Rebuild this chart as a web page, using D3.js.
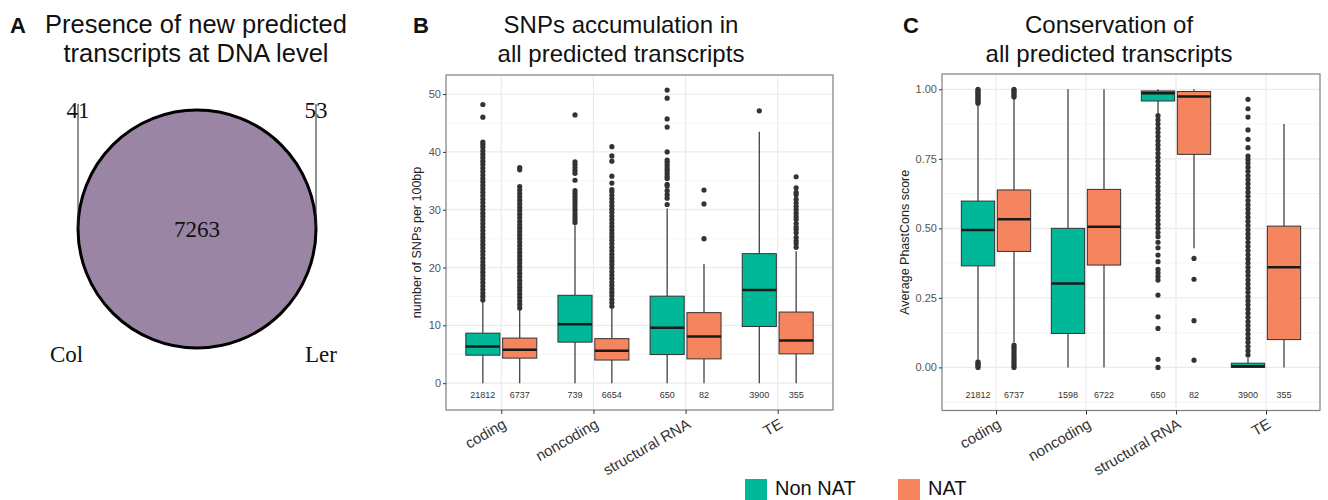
<!DOCTYPE html>
<html><head><meta charset="utf-8">
<script src="https://cdn.jsdelivr.net/npm/d3@7"></script>
<style>
html,body{margin:0;padding:0;background:#fff;}
svg{display:block;}
</style></head>
<body>
<svg id="chart" width="1328" height="500"></svg>
<script>
// ---------------- DATA ----------------
const categories = ["coding", "noncoding", "structural RNA", "TE"];
const groups = ["Non NAT", "NAT"];
const groupColors = ["#00b797", "#f5855f"];

// Panel A (Venn)
const vennSets = ["Col", "Ler"];
const vennOnlyCol = 41;
const vennShared = 7263;
const vennOnlyLer = 53;

// Panel B: SNPs per 100bp
const snpTicks = [0, 10, 20, 30, 40, 50];
const snpMinor = [5, 15, 25, 35, 45];
const snpNonLow  = [0, 0, 0, 0];
const snpNonQ1   = [4.84, 7.1, 4.95, 9.8];
const snpNonMed  = [6.33, 10.2, 9.57, 16.1];
const snpNonQ3   = [8.65, 15.2, 15.05, 22.4];
const snpNonHigh = [14.1, 27.3, 30.2, 43.5];
const snpNonOut = [
  [14.4,15.0,15.6,16.2,16.8,17.4,18.0,18.6,19.2,19.8,20.4,21.0,21.6,22.2,22.8,23.4,24.0,24.6,25.2,25.8,26.4,27.0,27.6,28.2,28.8,29.4,30.0,30.6,31.2,31.8,32.4,33.0,33.6,34.2,34.8,35.4,36.0,36.6,37.2,37.8,38.4,39.0,39.6,40.2,40.8,41.3,41.7,46.0,48.2],
  [27.8,28.3,28.8,29.3,29.8,30.3,30.8,31.3,31.8,32.3,32.8,33.3,35.1,36.3,36.8,37.3,37.8,38.3,46.4],
  [30.9,32.0,32.6,33.3,34.1,34.4,35.4,35.8,36.3,36.8,37.2,37.7,38.2,38.6,40.0,44.3,45.7,49.3,50.7],
  [47.1]
];
const snpNatLow  = [0, 0, 0, 0];
const snpNatQ1   = [4.33, 4.0, 4.2, 5.07];
const snpNatMed  = [5.76, 5.6, 8.07, 7.4];
const snpNatQ3   = [7.8, 7.7, 12.2, 12.3];
const snpNatHigh = [12.8, 13.0, 20.6, 22.8];
const snpNatOut = [
  [13.0,13.6,14.2,14.8,15.4,16.0,16.6,17.2,17.8,18.4,19.0,19.6,20.2,20.8,21.4,22.0,22.6,23.2,23.8,24.4,25.0,25.6,26.2,26.8,27.4,28.0,28.6,29.2,29.8,30.4,31.0,31.6,32.2,32.8,33.4,34.0,36.9,37.3],
  [13.3,13.9,14.5,15.1,15.7,16.3,16.9,17.5,18.1,18.7,19.3,19.9,20.5,21.1,21.7,22.3,22.9,23.5,24.1,24.7,25.3,25.9,26.5,27.1,27.7,28.3,28.9,29.5,30.1,30.7,31.3,31.9,32.5,33.1,33.5,34.6,35.8,38.4,39.3,40.9],
  [25.0, 31.0, 33.4],
  [23.5,24.1,24.6,25.2,26.0,26.6,27.0,27.6,28.3,28.8,29.4,30.0,30.6,31.2,31.8,32.6,33.0,33.8,35.7]
];
const snpNonCounts = [21812, 739, 650, 3900];
const snpNatCounts = [6737, 6654, 82, 355];

// Panel C: PhastCons
const consTicks = [0, 0.25, 0.5, 0.75, 1];
const consMinor = [-0.125, 0.125, 0.375, 0.625, 0.875];
const consNonLow  = [0.03, 0, 0.915, 0];
const consNonQ1   = [0.365, 0.122, 0.958, 0];
const consNonMed  = [0.494, 0.302, 0.986, 0.004];
const consNonQ3   = [0.598, 0.50, 0.994, 0.015];
const consNonHigh = [0.945, 1.0, 1.0, 0.035];
const consNonOut = [
  [0.95,0.955,0.96,0.965,0.97,0.975,0.98,0.985,0.99,0.995,1.0,0.0,0.005,0.01,0.015,0.02],
  [],
  [0.905,0.89,0.875,0.86,0.845,0.83,0.815,0.8,0.785,0.77,0.755,0.74,0.725,0.71,0.695,0.68,0.665,0.65,0.635,0.62,0.605,0.59,0.575,0.56,0.545,0.53,0.515,0.5,0.485,0.47,0.45,0.43,0.404,0.38,0.353,0.34,0.327,0.314,0.26,0.182,0.14,0.029,0.0],
  [0.045,0.06,0.075,0.09,0.105,0.12,0.135,0.15,0.165,0.18,0.195,0.21,0.225,0.24,0.255,0.27,0.285,0.3,0.315,0.33,0.345,0.36,0.375,0.39,0.405,0.42,0.435,0.45,0.465,0.48,0.495,0.51,0.525,0.54,0.555,0.57,0.585,0.6,0.615,0.63,0.645,0.66,0.675,0.69,0.705,0.72,0.735,0.748,0.76,0.79,0.82,0.854,0.9,0.93,0.964]
];
const consNatLow  = [0.09, 0, 0.428, 0];
const consNatQ1   = [0.417, 0.368, 0.766, 0.10];
const consNatMed  = [0.533, 0.506, 0.974, 0.36];
const consNatQ3   = [0.638, 0.64, 0.992, 0.508];
const consNatHigh = [0.968, 1.0, 1.0, 0.875];
const consNatOut = [
  [0.972,0.978,0.984,0.99,0.995,1.0,0.0,0.008,0.016,0.024,0.032,0.04,0.048,0.056,0.064,0.072,0.08],
  [],
  [0.392, 0.317, 0.168, 0.026],
  []
];
const consNonCounts = [21812, 1598, 650, 3900];
const consNatCounts = [6737, 6722, 82, 355];

// ---------------- DRAW ----------------
const svg = d3.select("#chart");
const SANS = "'Liberation Sans', Arial, Helvetica, sans-serif";
const SERIF = "'Liberation Serif', 'Times New Roman', serif";

// ---- Panel titles ----
function title(letter, lx, lines, cx, fs) {
  svg.append("text").attr("x", lx).attr("y", 33).attr("font-family", SANS)
    .attr("font-weight", "bold").attr("font-size", 22).attr("fill", "#111").text(letter);
  lines.forEach((t, i) => {
    svg.append("text").attr("x", cx).attr("y", 33 + i * 29).attr("text-anchor", "middle")
      .attr("font-family", SANS).attr("font-size", fs).attr("fill", "#111").text(t);
  });
}
title("A", 10, ["Presence of new predicted", "transcripts at DNA level"], 196, 25.5);
title("B", 413, ["SNPs accumulation in", "all predicted transcripts"], 621, 24);
title("C", 903, ["Conservation of", "all predicted transcripts"], 1109, 24);

// ---- Panel A: Venn ----
(function () {
  const cx = 197, cy = 229, r = 119;
  const g = svg.append("g");
  g.append("circle").attr("cx", cx).attr("cy", cy).attr("r", r)
    .attr("fill", "#9a85a5").attr("stroke", "#000").attr("stroke-width", 3);
  g.append("text").attr("x", cx).attr("y", cy + 8).attr("text-anchor", "middle")
    .attr("font-family", SERIF).attr("font-size", 23).attr("fill", "#111").text(vennShared);
  const lx = cx - r, rx = cx + r;
  g.append("line").attr("x1", lx).attr("x2", lx).attr("y1", 104).attr("y2", cy)
    .attr("stroke", "#222").attr("stroke-width", 1);
  g.append("line").attr("x1", rx).attr("x2", rx).attr("y1", 104).attr("y2", cy)
    .attr("stroke", "#222").attr("stroke-width", 1);
  g.append("text").attr("x", lx).attr("y", 118).attr("text-anchor", "middle")
    .attr("font-family", SERIF).attr("font-size", 23).attr("fill", "#111").text(vennOnlyCol);
  g.append("text").attr("x", rx).attr("y", 118).attr("text-anchor", "middle")
    .attr("font-family", SERIF).attr("font-size", 23).attr("fill", "#111").text(vennOnlyLer);
  g.append("text").attr("x", 50).attr("y", 362)
    .attr("font-family", SERIF).attr("font-size", 23).attr("fill", "#111").text(vennSets[0]);
  g.append("text").attr("x", 305).attr("y", 362)
    .attr("font-family", SERIF).attr("font-size", 23).attr("fill", "#111").text(vennSets[1]);
})();

// ---- Box panels ----
function boxPanel(o) {
  const g = svg.append("g");
  const x = d3.scalePoint().domain(categories).range([o.left, o.right]).padding(0.6);
  const step = x.step();
  const off = d3.scalePoint().domain(groups).range([-0.2 * step, 0.2 * step]);
  const bw = 0.37 * step;
  const y = d3.scaleLinear().domain(o.domain).range([o.bottom, o.top]);

  g.append("rect").attr("x", o.left).attr("y", o.top).attr("width", o.right - o.left)
    .attr("height", o.bottom - o.top).attr("fill", "#fff");
  g.selectAll(".minor").data(o.minor).join("line")
    .attr("x1", o.left).attr("x2", o.right).attr("y1", d => y(d)).attr("y2", d => y(d))
    .attr("stroke", "#f2f2f2").attr("stroke-width", 0.8);
  g.selectAll(".major").data(o.ticks).join("line")
    .attr("x1", o.left).attr("x2", o.right).attr("y1", d => y(d)).attr("y2", d => y(d))
    .attr("stroke", "#ebebeb").attr("stroke-width", 1.2);
  g.selectAll(".vmajor").data(categories).join("line")
    .attr("x1", d => x(d)).attr("x2", d => x(d)).attr("y1", o.top).attr("y2", o.bottom)
    .attr("stroke", "#ebebeb").attr("stroke-width", 1.2);

  const series = [o.non, o.nat];
  series.forEach((s, gi) => {
    const gx = c => x(c) + off(groups[gi]);
    categories.forEach((c, i) => {
      const cxp = gx(c);
      g.append("line").attr("x1", cxp).attr("x2", cxp).attr("y1", y(s.low[i])).attr("y2", y(s.q1[i]))
        .attr("stroke", "#333").attr("stroke-width", 1.2);
      g.append("line").attr("x1", cxp).attr("x2", cxp).attr("y1", y(s.q3[i])).attr("y2", y(s.high[i]))
        .attr("stroke", "#333").attr("stroke-width", 1.2);
      g.selectAll(null).data(s.out[i]).join("circle")
        .attr("cx", cxp).attr("cy", d => y(d)).attr("r", 2.6).attr("fill", "#333");
      g.append("rect").attr("x", cxp - bw / 2).attr("width", bw)
        .attr("y", y(s.q3[i])).attr("height", Math.max(1, y(s.q1[i]) - y(s.q3[i])))
        .attr("fill", groupColors[gi]).attr("stroke", "#333").attr("stroke-width", 1);
      g.append("line").attr("x1", cxp - bw / 2).attr("x2", cxp + bw / 2)
        .attr("y1", y(s.med[i])).attr("y2", y(s.med[i]))
        .attr("stroke", "#1a1a1a").attr("stroke-width", 2.5);
      g.append("text").attr("x", cxp).attr("y", y(o.countY)).attr("dy", "0.35em")
        .attr("text-anchor", "middle").attr("font-family", SANS).attr("font-size", 9)
        .attr("fill", "#333").text(s.counts[i]);
    });
  });

  g.append("rect").attr("x", o.left).attr("y", o.top).attr("width", o.right - o.left)
    .attr("height", o.bottom - o.top).attr("fill", "none").attr("stroke", "#7f7f7f").attr("stroke-width", 1.2);

  const ya = g.append("g").attr("transform", `translate(${o.left},0)`)
    .call(d3.axisLeft(y).tickValues(o.ticks).tickSize(3).tickPadding(2).tickFormat(o.fmt));
  ya.select(".domain").remove();
  ya.selectAll(".tick line").attr("stroke", "#333");
  ya.selectAll(".tick text").attr("font-family", SANS).attr("font-size", 11).attr("fill", "#555");

  const xa = g.append("g").attr("transform", `translate(0,${o.bottom})`)
    .call(d3.axisBottom(x).tickSize(4).tickFormat(""));
  xa.select(".domain").remove();
  xa.selectAll(".tick line").attr("stroke", "#333");
  categories.forEach(c => {
    const ax = x(c) + 6, ay = 427;
    g.append("text").attr("transform", `translate(${ax},${ay}) rotate(-30)`)
      .attr("text-anchor", "end").attr("font-family", SANS).attr("font-size", 15)
      .attr("fill", "#333").text(c);
  });

  g.append("text").attr("transform", `translate(${o.ytx},${(o.top + o.bottom) / 2}) rotate(-90)`)
    .attr("text-anchor", "middle").attr("dy", "0.35em").attr("font-family", SANS)
    .attr("font-size", 12.5).attr("fill", "#222").text(o.ytitle);
}

boxPanel({
  left: 446, right: 833, top: 75, bottom: 410,
  domain: [-4.64, 53.3], ticks: snpTicks, minor: snpMinor, fmt: d3.format("d"),
  countY: -2, ytx: 417, ytitle: "number of SNPs per 100bp",
  non: { low: snpNonLow, q1: snpNonQ1, med: snpNonMed, q3: snpNonQ3, high: snpNonHigh, out: snpNonOut, counts: snpNonCounts },
  nat: { low: snpNatLow, q1: snpNatQ1, med: snpNatMed, q3: snpNatQ3, high: snpNatHigh, out: snpNatOut, counts: snpNatCounts }
});
boxPanel({
  left: 942, right: 1320, top: 74, bottom: 410.5,
  domain: [-0.155, 1.055], ticks: consTicks, minor: consMinor, fmt: d3.format(".2f"),
  countY: -0.1, ytx: 905, ytitle: "Average PhastCons score",
  non: { low: consNonLow, q1: consNonQ1, med: consNonMed, q3: consNonQ3, high: consNonHigh, out: consNonOut, counts: consNonCounts },
  nat: { low: consNatLow, q1: consNatQ1, med: consNatMed, q3: consNatQ3, high: consNatHigh, out: consNatOut, counts: consNatCounts }
});

// ---- Legend ----
const legX = [745, 898];
groups.forEach((gname, i) => {
  svg.append("rect").attr("x", legX[i]).attr("y", 479).attr("width", 22).attr("height", 21)
    .attr("fill", groupColors[i]);
  svg.append("text").attr("x", legX[i] + 30).attr("y", 495).attr("font-family", SANS)
    .attr("font-size", 20).attr("fill", "#111").text(gname);
});
</script>
</body></html>
